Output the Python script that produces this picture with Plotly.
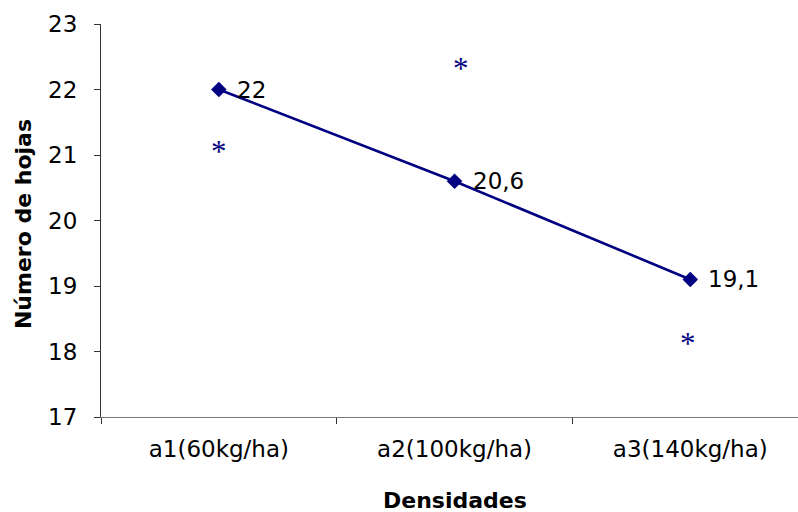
import plotly.graph_objects as go

# Leaf counts per nitrogen density
categories = ["a1(60kg/ha)", "a2(100kg/ha)", "a3(140kg/ha)"]
positions = [0, 1, 2]
leaves = [22.0, 20.6, 19.1]

# Significance marks (asterisks) placed next to each treatment
star_x = [0.0, 1.027, 1.989]
star_y = [21.07, 22.33, 18.13]

y_ticks = [17, 18, 19, 20, 21, 22, 23]

NAVY = "#000080"
FONT = "DejaVu Sans"

fig = go.Figure()

fig.add_trace(go.Scatter(
    x=positions, y=leaves, mode="lines+markers",
    line=dict(color=NAVY, width=2.6),
    marker=dict(symbol="diamond", size=12, color=NAVY),
    showlegend=False, hoverinfo="skip",
))

annotations = []
for xv, yv in zip(positions, leaves):
    label = f"{yv:g}".replace(".", ",")
    annotations.append(dict(
        x=xv, y=yv, xref="x", yref="y", text=label, showarrow=False,
        xanchor="left", yanchor="middle", xshift=16,
        font=dict(family=FONT, size=23, color="black"),
    ))

for xv, yv in zip(star_x, star_y):
    annotations.append(dict(
        x=xv, y=yv, xref="x", yref="y", text="*", showarrow=False,
        xanchor="center", yanchor="middle", yshift=-1,
        font=dict(family="Liberation Serif", size=31, color=NAVY),
    ))

annotations.append(dict(
    x=1, y=-0.212, xref="x", yref="paper", text="<b>Densidades</b>",
    showarrow=False, xanchor="center", yanchor="middle",
    font=dict(family=FONT, size=22, color="black"),
))
annotations.append(dict(
    x=-0.111, y=0.49, xref="paper", yref="paper", text="<b>Número de hojas</b>",
    showarrow=False, textangle=-90, xanchor="center", yanchor="middle",
    font=dict(family=FONT, size=22, color="black"),
))

fig.update_layout(
    width=798, height=512,
    margin=dict(l=101, r=0, t=24, b=95),
    paper_bgcolor="white", plot_bgcolor="white",
    annotations=annotations,
    xaxis=dict(
        range=[-0.5, 2.457], tickvals=positions, ticktext=categories,
        ticks="", showgrid=False, zeroline=False,
        showline=True, linecolor="#777777", linewidth=1,
        tickfont=dict(family=FONT, size=23, color="black"),
        ticklabelstandoff=11,
        minor=dict(ticks="outside", tick0=-0.5, dtick=1, ticklen=6,
                   tickcolor="#333333", showgrid=False),
    ),
    yaxis=dict(
        range=[17, 23], tickvals=y_ticks, ticks="outside", ticklen=6,
        tickcolor="#333333", showgrid=False, zeroline=False,
        showline=True, linecolor="#333333", linewidth=1,
        tickfont=dict(family=FONT, size=23, color="black"),
        ticklabelstandoff=12,
    ),
)

fig.write_html("out.html")
